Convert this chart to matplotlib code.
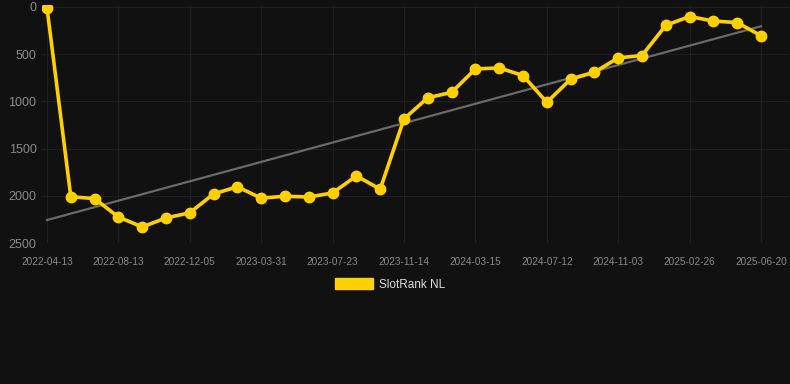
import numpy as np
import matplotlib
matplotlib.use("Agg")
import matplotlib.pyplot as plt
from matplotlib.patches import Patch

tick_labels = ["2022-04-13", "2022-08-13", "2022-12-05", "2023-03-31", "2023-07-23",
               "2023-11-14", "2024-03-15", "2024-07-12", "2024-11-03", "2025-02-26",
               "2025-06-20"]
ranks = [10, 2010, 2030, 2225, 2330, 2235, 2180, 1980, 1905, 2025, 2005, 2013, 1970,
         1790, 1930, 1186, 962, 905, 657, 646, 727, 1010, 766, 692, 540, 515,
         195, 102, 150, 166, 305]
series_name = "SlotRank NL"

bg = "#111111"
gold = "#FFD000"

fig = plt.figure(figsize=(7.9, 3.84), dpi=100, facecolor=bg)
W, H = 790, 384
left, right, top, bottom = 42, 790, 5, 243
ax = fig.add_axes([left / W, 1 - bottom / H, (right - left) / W, (bottom - top) / H])
ax.set_facecolor(bg)

x = np.arange(len(ranks))
# trend line (least squares)
k, b = np.polyfit(x, ranks, 1)
ax.plot(x, k * x + b, color="#6a6a6a", lw=1.6, zorder=2)
ax.plot(x, ranks, color=gold, lw=2.6, marker="o", ms=7.5, mec=gold, mfc=gold, zorder=3)

px = 23.8
ax.set_xlim(-(47 - left) / px, 30 + (right - 761) / px)
ax.set_ylim(2500, -20)
ax.set_yticks([0, 500, 1000, 1500, 2000, 2500])
ax.set_xticks(x[::3])
ax.set_xticklabels(tick_labels)
ax.grid(True, color="#1f1f1f", lw=0.8)
ax.set_axisbelow(True)
for s in ax.spines.values():
    s.set_visible(False)
ax.tick_params(axis="both", length=0)
ax.tick_params(axis="x", labelsize=7.2, labelcolor="#8a8a8a", pad=10)
ax.tick_params(axis="y", labelsize=9, labelcolor="#8a8a8a", pad=4)
for lab in ax.get_xticklabels() + ax.get_yticklabels():
    lab.set_fontfamily("Liberation Sans")

leg = fig.legend(handles=[Patch(facecolor=gold, edgecolor=gold, label=series_name)],
                 loc="center", bbox_to_anchor=(390 / W, 1 - 284.5 / H), frameon=False,
                 handlelength=3.3, handleheight=1.0, handletextpad=0.5,
                 prop={"family": "Liberation Sans", "size": 8.5})
for t in leg.get_texts():
    t.set_color("#dddddd")

fig.savefig("out.png", dpi=100, facecolor=bg)
